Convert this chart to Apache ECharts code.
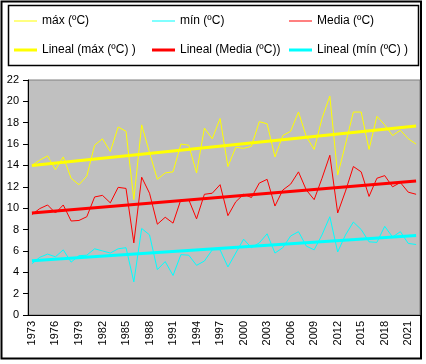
<!DOCTYPE html>
<html>
<head>
<meta charset="utf-8">
<script src="https://cdn.jsdelivr.net/npm/echarts@6/dist/echarts.min.js"></script>
<style>html,body{margin:0;padding:0;background:#fff}#c{width:426px;height:364px}</style>
</head>
<body>
<div id="c"></div>
<script>
var years = [];
for (var y = 1973; y <= 2022; y++) years.push(String(y));

var maxT = [14.0,14.5,14.9,13.6,14.8,12.8,12.2,13.0,15.9,16.5,15.3,17.6,17.2,10.8,17.8,15.2,12.7,13.3,13.4,16.0,
            15.9,13.3,17.5,16.5,18.4,13.9,15.7,15.6,15.8,18.1,17.9,14.8,16.8,17.2,19.0,16.7,15.5,18.4,20.5,13.1,
            16.0,19.0,19.0,15.5,18.6,17.8,16.8,17.3,16.5,16.0];
var minT = [4.8,5.4,5.7,5.45,6.1,4.95,5.55,5.6,6.2,6.0,5.8,6.2,6.3,3.1,8.1,7.5,4.25,5.0,3.7,5.65,
            5.6,4.65,5.05,6.1,6.1,4.5,5.8,7.1,6.3,6.75,7.6,5.8,6.3,7.4,7.8,6.45,6.1,7.5,9.2,5.9,
            7.5,8.7,8.0,6.85,6.8,8.3,7.3,7.8,6.7,6.6];
var meanT = [9.4,9.96,10.3,9.55,10.3,8.8,8.85,9.2,11.05,11.2,10.5,11.95,11.85,6.75,12.9,11.4,8.5,9.15,8.6,10.8,
             10.8,9.0,11.3,11.4,12.2,9.3,10.6,11.3,11.0,12.35,12.7,10.2,11.7,12.25,13.4,11.7,10.8,12.8,14.95,9.55,
             11.6,13.9,13.4,11.1,12.8,13.05,12.0,12.4,11.5,11.3];
// trend line endpoints (first year, last year)
var trendMax = [14.0, 17.7];
var trendMean = [9.55, 12.55];
var trendMin = [5.07, 7.45];
var yTicks = [0, 22, 2];

var names = ['máx (ºC)','mín (ºC)','Media (ºC)','Lineal (máx (ºC) )','Lineal (Media (ºC))','Lineal (mín (ºC) )'];
var YEL = '#FFFF00', CYA = '#00FFFF', RED = '#FF0000';

function ends(arr){ return [[years[0], arr[0]], [years[years.length-1], arr[1]]]; }

var chart = echarts.init(document.getElementById('c'), null, {renderer:'canvas'});
var txt = {color:'#000', fontFamily:'Liberation Sans, Arial', fontSize:12};
function lg(name, left, top, color, h){
  return {data:[{name:name, icon:'rect', itemStyle:{color:color}}], left:left, top:top, itemWidth:23, itemHeight:h,
          itemGap:0, padding:0, textStyle:txt, selectedMode:false};
}
chart.setOption({
  animation:false,
  backgroundColor:'#fff',
  graphic:[
    {type:'rect', shape:{x:1.5,y:1.5,width:419.5,height:357}, style:{fill:null, stroke:'#000', lineWidth:2}, silent:true, z:-1},
    {type:'rect', shape:{x:8.5,y:5.5,width:410,height:60}, style:{fill:null, stroke:'#000', lineWidth:1.5}, silent:true}
  ],
  legend:[
    lg(names[0], 14, 15, YEL, 1),
    lg(names[1], 152, 15, CYA, 1),
    lg(names[2], 289, 15, RED, 1),
    lg(names[3], 14, 44, YEL, 3),
    lg(names[4], 152, 44, RED, 3),
    lg(names[5], 289, 44, CYA, 3)
  ],
  grid:{left:28, right:6, top:80, height:235, show:true, backgroundColor:'#C0C0C0', borderColor:'#808080', borderWidth:1},
  xAxis:{
    type:'category', data:years, boundaryGap:true,
    axisLine:{lineStyle:{color:'#000', width:1}},
    axisTick:{interval:0, length:4, lineStyle:{color:'#000'}},
    axisLabel:{interval:2, rotate:90, margin:6, color:'#000', fontFamily:'Liberation Sans, Arial', fontSize:11},
    splitLine:{show:false}
  },
  yAxis:{
    type:'value', min:yTicks[0], max:yTicks[1], interval:yTicks[2],
    axisLine:{show:true, lineStyle:{color:'#000', width:1}},
    axisTick:{show:true, length:5, lineStyle:{color:'#000'}},
    axisLabel:{margin:9, color:'#000', fontFamily:'Liberation Sans, Arial', fontSize:11},
    splitLine:{show:false}
  },
  series:[
    {name:names[0], type:'line', data:maxT, symbol:'none', lineStyle:{color:YEL, width:1}, itemStyle:{color:YEL}, z:2},
    {name:names[1], type:'line', data:minT, symbol:'none', lineStyle:{color:CYA, width:1}, itemStyle:{color:CYA}, z:2},
    {name:names[2], type:'line', data:meanT, symbol:'none', lineStyle:{color:RED, width:1}, itemStyle:{color:RED}, z:2},
    {name:names[3], type:'line', data:ends(trendMax), symbol:'none', lineStyle:{color:YEL, width:3}, itemStyle:{color:YEL}, z:3},
    {name:names[4], type:'line', data:ends(trendMean), symbol:'none', lineStyle:{color:RED, width:3}, itemStyle:{color:RED}, z:3},
    {name:names[5], type:'line', data:ends(trendMin), symbol:'none', lineStyle:{color:CYA, width:3}, itemStyle:{color:CYA}, z:3}
  ]
});
</script>
</body>
</html>
